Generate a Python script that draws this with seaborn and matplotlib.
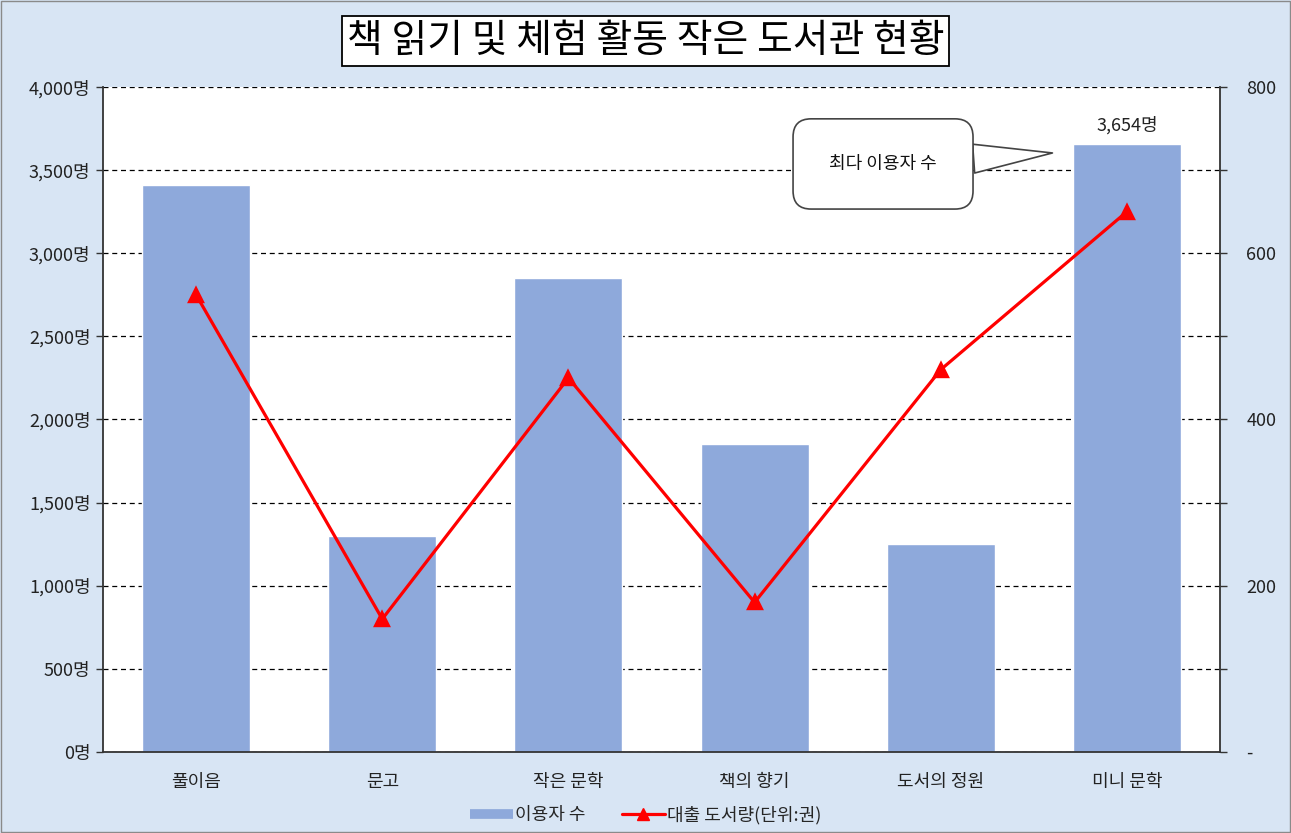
import matplotlib
matplotlib.use("Agg")
import matplotlib.pyplot as plt
import matplotlib.ticker as mticker
from matplotlib.lines import Line2D
from matplotlib.patches import Rectangle
import seaborn as sns
import pandas as pd

# chart values
categories = ["풀이음", "문고", "작은 문학", "책의 향기", "도서의 정원", "미니 문학"]
users = [3410, 1300, 2850, 1850, 1250, 3654]
loans = [550, 160, 450, 180, 460, 650]

title = "책 읽기 및 체험 활동 작은 도서관 현황"
bar_name = "이용자 수"
line_name = "대출 도서량(단위:권)"
callout = "최다 이용자 수"

bg_color = "#D8E5F4"
bar_color = "#8EA9DB"
line_color = "#FF0000"

sns.set_theme(style="white")
plt.rcParams["font.family"] = ["Noto Sans CJK KR", "DejaVu Sans"]

df = pd.DataFrame({"category": categories, "users": users, "loans": loans})

fig = plt.figure(figsize=(12.91, 8.33), dpi=100, facecolor=bg_color)
ax = fig.add_axes([0.0798, 0.0972, 0.8652, 0.7984])
ax.set_facecolor("white")

sns.barplot(data=df, x="category", y="users", color=bar_color, saturation=1,
            width=0.58, ax=ax, zorder=2)
ax.set_ylim(0, 4000)
ax.set_xlim(-0.5, len(categories) - 0.5)
ax.yaxis.set_major_locator(mticker.MultipleLocator(500))
ax.yaxis.set_major_formatter(mticker.FuncFormatter(lambda v, p: f"{int(v):,}명"))
ax.grid(axis="y", color="black", linestyle=(0, (4, 3)), linewidth=0.9, zorder=1)
ax.set_axisbelow(True)
ax.set_xlabel("")
ax.set_ylabel("")
ax.tick_params(axis="y", left=True, length=5, width=1, color="#333333",
               labelsize=13, labelcolor="#222222", pad=4)
ax.tick_params(axis="x", bottom=False, labelsize=13, labelcolor="#222222", pad=9)
for side in ["left", "bottom"]:
    ax.spines[side].set_color("#333333")
    ax.spines[side].set_linewidth(1.3)
ax.spines["top"].set_visible(False)
ax.spines["right"].set_visible(False)

# max value label
imax = users.index(max(users))
ax.text(imax, max(users) + 60, f"{max(users):,}명", ha="center", va="bottom",
        fontsize=13, color="#222222")

# loans on the right axis
ax2 = ax.twinx()
sns.pointplot(data=df, x="category", y="loans", color=line_color, markers="^",
              linestyles="-", ax=ax2, linewidth=2.3, markersize=10)
ax2.set_ylim(0, 800)
ax2.set_xlim(-0.5, len(categories) - 0.5)
ax2.yaxis.set_major_locator(mticker.MultipleLocator(200))
ax2.yaxis.set_minor_locator(mticker.MultipleLocator(100))
ax2.yaxis.set_major_formatter(mticker.FuncFormatter(lambda v, p: "-" if v == 0 else f"{int(v)}"))
ax2.tick_params(axis="y", which="both", right=True, length=5, width=1, color="#333333",
                labelsize=13, labelcolor="#222222", pad=14)
ax2.set_ylabel("")
ax2.set_xlabel("")
ax2.grid(False)
for side in ["top", "left", "bottom"]:
    ax2.spines[side].set_visible(False)
ax2.spines["right"].set_color("#333333")
ax2.spines["right"].set_linewidth(1.3)

# callout box
ax.annotate(callout, xy=(4.60, 3603), xytext=(3.69, 3537), xycoords="data",
            ha="center", va="center", fontsize=13, color="#111111", zorder=10,
            bbox=dict(boxstyle="round,pad=2.0,rounding_size=1.0", fc="white",
                      ec="#444444", lw=1.2),
            arrowprops=dict(arrowstyle="wedge,tail_width=1.6,shrink_factor=0.5",
                            fc="white", ec="#444444", lw=1.2, relpos=(1.0, 0.65),
                            shrinkA=0, shrinkB=0))

# title
fig.text(0.5, 1 - 41 / 833, title, ha="center", va="center", fontsize=28,
         color="black",
         bbox=dict(boxstyle="square,pad=0.12", fc="white", ec="black", lw=1.3))

# legend
handles = [
    Line2D([], [], color=bar_color, lw=7, solid_capstyle="butt"),
    Line2D([], [], color=line_color, lw=2.3, marker="^", markersize=9),
]
fig.legend(handles, [bar_name, line_name], loc="center", ncol=2,
           bbox_to_anchor=(0.5, 1 - 815 / 833), frameon=False, fontsize=13,
           handlelength=2.4, handletextpad=0.1, columnspacing=2.0)

# outer border
fig.patches.append(Rectangle((0.001, 0.001), 0.998, 0.998, transform=fig.transFigure,
                             fill=False, ec="#8A8A8A", lw=1.0))

fig.savefig("out.png", dpi=100, facecolor=bg_color)
